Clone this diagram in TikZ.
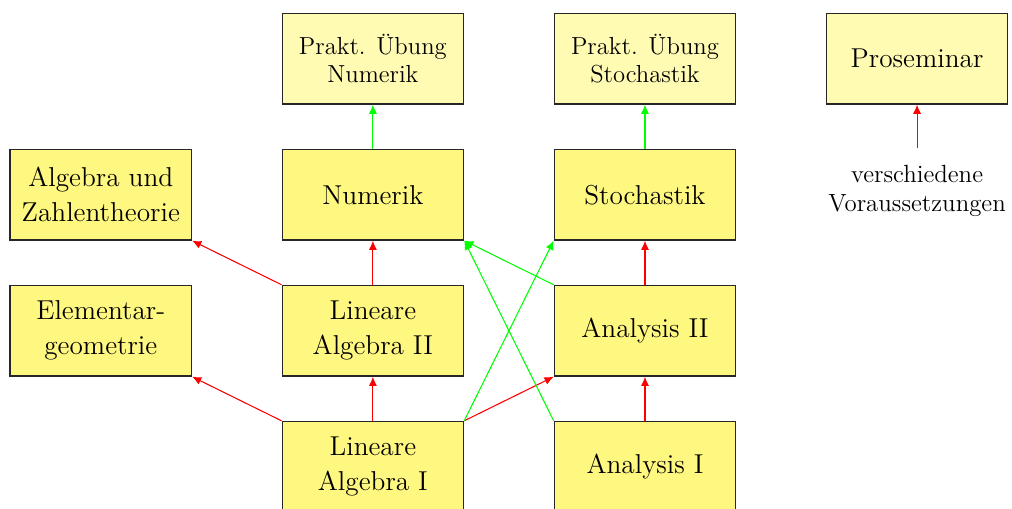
\documentclass[tikz,border=0pt]{standalone}
\usepackage{fontspec}
\usetikzlibrary{arrows.meta}
\begin{document}
\begin{tikzpicture}[>={Latex[length=4.3pt,width=3.8pt]},
    kurs/.style={draw=black!85,line width=0.6pt,fill=yellow!50,minimum width=3cm,minimum height=1.5cm,
        align=center,font=\fontsize{12.85}{16.4}\selectfont},
    uebung/.style={kurs,fill=yellow!30,font=\fontsize{11.6}{13.2}\selectfont},
    pflicht/.style={->,red,line width=0.5pt},
    empf/.style={->,green,line width=0.5pt}]
    \useasboundingbox (-1.667,-0.693) rectangle (15.07,7.72);
    \node[kurs] (la1) at (4.5,0) {Lineare\\Algebra I};
    \node[kurs] (ana1) at (9,0) {Analysis I};
    \node[kurs] (elem) at (0,2.25) {Elementar-\\geometrie};
    \node[kurs] (la2) at (4.5,2.25) {Lineare\\Algebra II};
    \node[kurs] (ana2) at (9,2.25) {Analysis II};
    \node[kurs] (alg) at (0,4.5) {Algebra und\\Zahlentheorie};
    \node[kurs] (num) at (4.5,4.5) {Numerik};
    \node[kurs] (sto) at (9,4.5) {Stochastik};
    \node[uebung] (pnum) at (4.5,6.75) {Prakt. Übung\\Numerik};
    \node[uebung] (psto) at (9,6.75) {Prakt. Übung\\Stochastik};
    \node[kurs,fill=yellow!30] (pros) at (13.5,6.75) {Proseminar};
    \node[align=center,inner ysep=8pt,font=\fontsize{11.7}{13.8}\selectfont] (vor) at (13.5,4.56)
        {verschiedene\\Voraussetzungen};
    % Pflicht
    \draw[pflicht] (la1) -- (la2);
    \draw[pflicht] (la1.north west) -- (elem.south east);
    \draw[pflicht] (la1.north east) -- (ana2.south west);
    \draw[pflicht] (ana1) -- (ana2);
    \draw[pflicht] (la2) -- (num);
    \draw[pflicht] (la2.north west) -- (alg.south east);
    \draw[pflicht] (ana2) -- (sto);
    \draw[pflicht] (vor) -- (pros);
    % empfohlen
    \draw[empf] (la1.north east) -- (sto.south west);
    \draw[empf] (ana1.north west) -- (num.south east);
    \draw[empf] (ana2.north west) -- (num.south east);
    \draw[empf] (num) -- (pnum);
    \draw[empf] (sto) -- (psto);
\end{tikzpicture}
\end{document}
